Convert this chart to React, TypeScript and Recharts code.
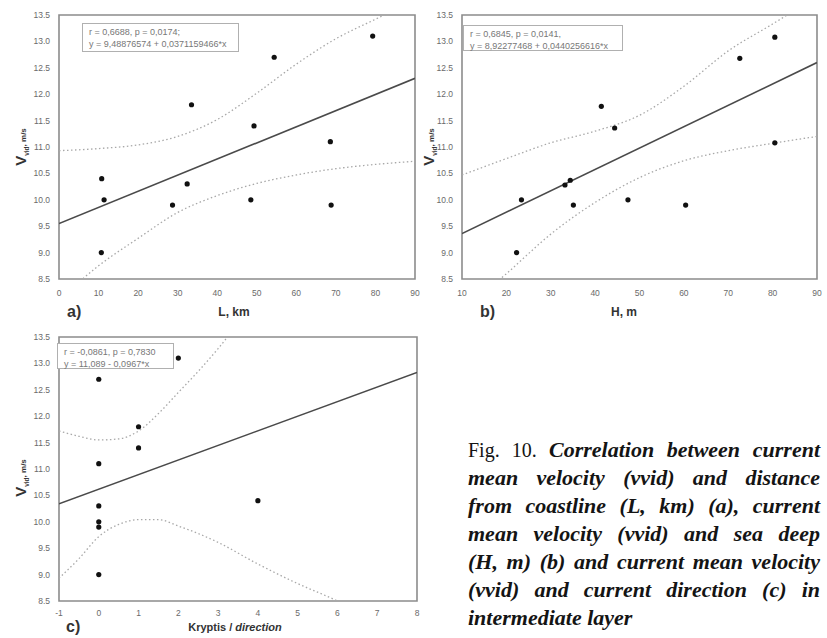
import React from 'react';
import { ComposedChart, Scatter, Line, XAxis, YAxis, ReferenceArea } from 'recharts';

// panel a: distance from coastline
const distKm = [10.8, 11.4, 10.7, 28.7, 32.4, 33.5, 48.5, 49.3, 54.4, 68.6, 68.8, 79.3];
const velA = [10.4, 10.0, 9.0, 9.9, 10.3, 11.8, 10.0, 11.4, 12.7, 11.1, 9.9, 13.1];
const fitAX = [0, 90];
const fitAY = [9.55, 12.3];
const bandAX = [0, 10, 20, 30, 40, 50, 60, 70, 80, 90];
const bandAUpper = [10.93, 10.97, 11.04, 11.2, 11.52, 12.02, 12.57, 13.05, 13.42, 13.78];
const bandALower = [8.1, 8.75, 9.27, 9.76, 10.08, 10.31, 10.47, 10.59, 10.67, 10.73];
const ticksA = [0, 10, 20, 30, 40, 50, 60, 70, 80, 90];

// panel b: sea depth
const depthM = [22.3, 23.4, 33.2, 34.4, 35.1, 41.4, 44.4, 47.4, 60.4, 72.6, 80.5, 80.5];
const velB = [9.0, 10.0, 10.28, 10.37, 9.9, 11.77, 11.36, 10.0, 9.9, 12.68, 13.08, 11.08];
const fitBX = [10, 90];
const fitBY = [9.36, 12.6];
const bandBX = [10, 20, 30, 40, 50, 60, 70, 80, 90];
const bandBUpper = [10.47, 10.78, 11.08, 11.3, 11.6, 12.15, 12.82, 13.33, 13.85];
const bandBLower = [7.9, 8.6, 9.35, 9.95, 10.42, 10.74, 10.93, 11.07, 11.2];
const ticksB = [10, 20, 30, 40, 50, 60, 70, 80, 90];

// panel c: current direction
const direction = [0, 0, 0, 0, 0, 0, 1, 1, 2, 4];
const velC = [12.7, 11.1, 10.3, 10.0, 9.9, 9.0, 11.8, 11.4, 13.1, 10.4];
const fitCX = [-1, 8];
const fitCY = [10.34, 12.83];
const bandCUpperX = [-1, -0.5, 0, 0.5, 1, 1.5, 2, 2.5, 3, 3.5, 4];
const bandCUpper = [11.72, 11.62, 11.55, 11.57, 11.72, 12.05, 12.45, 12.85, 13.28, 13.75, 14.2];
const bandCLowerX = [-1, -0.5, 0, 0.5, 1, 1.5, 2, 3, 4, 5, 6, 7, 8];
const bandCLower = [8.93, 9.3, 9.72, 9.95, 10.04, 10.04, 9.92, 9.61, 9.2, 8.83, 8.5, 8.1, 7.7];
const ticksC = [-1, 0, 1, 2, 3, 4, 5, 6, 7, 8];

const velTicks = [8.5, 9.0, 9.5, 10.0, 10.5, 11.0, 11.5, 12.0, 12.5, 13.0, 13.5];

const zip = (xs: number[], ys: number[]) => xs.map((x, i) => ({ x, y: ys[i] }));

const tickStyle = { fontSize: 8.5, fill: '#6a6a6a', fontFamily: 'Liberation Sans, Arial' };
const sans = '"Liberation Sans", Arial, sans-serif';

const Dot = (props: any) => <circle cx={props.cx} cy={props.cy} r={2.6} fill="#111" />;

interface PanelProps {
  left: number;
  top: number;
  width: number;
  yAxisWidth: number;
  marginTop: number;
  xTickMargin: number;
  domain: [number, number];
  xTicks: number[];
  points: { x: number; y: number }[];
  fit: { x: number; y: number }[];
  upper: { x: number; y: number }[];
  lower: { x: number; y: number }[];
}

function Panel(p: PanelProps) {
  return (
    <div style={{ position: 'absolute', left: p.left, top: p.top }}>
      <ComposedChart width={p.width} height={p.marginTop + 285} margin={{ top: p.marginTop, right: 5, bottom: 0, left: 0 }}>
        <XAxis
          type="number"
          dataKey="x"
          domain={p.domain}
          ticks={p.xTicks}
          allowDataOverflow
          axisLine={false}
          tickLine={false}
          tickSize={0}
          tickMargin={p.xTickMargin}
          height={21}
          tick={tickStyle}
          interval={0}
        />
        <YAxis
          type="number"
          dataKey="y"
          domain={[8.5, 13.5]}
          ticks={velTicks}
          allowDataOverflow
          axisLine={false}
          tickLine={false}
          tickSize={0}
          tickMargin={9}
          width={p.yAxisWidth}
          tick={tickStyle}
          interval={0}
          tickFormatter={(v: number) => v.toFixed(1)}
        />
        <ReferenceArea x1={p.domain[0]} x2={p.domain[1]} y1={8.5} y2={13.5} fill="none" stroke="#8c8c8c" strokeWidth={1.6} />
        <Line data={p.upper} dataKey="y" type="monotone" stroke="#a8a8a8" strokeWidth={1.3} strokeDasharray="1.5 2.5" dot={false} activeDot={false} isAnimationActive={false} />
        <Line data={p.lower} dataKey="y" type="monotone" stroke="#a8a8a8" strokeWidth={1.3} strokeDasharray="1.5 2.5" dot={false} activeDot={false} isAnimationActive={false} />
        <Line data={p.fit} dataKey="y" type="linear" stroke="#4a4a4a" strokeWidth={1.6} dot={false} activeDot={false} isAnimationActive={false} />
        <Scatter data={p.points} shape={Dot} isAnimationActive={false} />
      </ComposedChart>
    </div>
  );
}

function YLabel({ cx, cy }: { cx: number; cy: number }) {
  return (
    <div
      style={{
        position: 'absolute',
        left: cx,
        top: cy,
        transform: 'translate(-50%, -50%) rotate(-90deg)',
        whiteSpace: 'nowrap',
        fontFamily: sans,
        fontWeight: 'bold',
        color: '#333',
        lineHeight: 1,
      }}
    >
      <span style={{ fontSize: 15 }}>V</span>
      <span style={{ fontSize: 6.5, position: 'relative', top: 3 }}>vid</span>
      <span style={{ fontSize: 8 }}>, m/s</span>
    </div>
  );
}

function TextAt({ x, y, size, children, anchor = 'left' }: any) {
  return (
    <div
      style={{
        position: 'absolute',
        left: x,
        top: y,
        transform: anchor === 'center' ? 'translate(-50%, -50%)' : 'translate(0, -50%)',
        whiteSpace: 'nowrap',
        fontFamily: sans,
        fontWeight: 'bold',
        fontSize: size,
        color: '#333',
        lineHeight: 1,
      }}
    >
      {children}
    </div>
  );
}

function StatBox({ x, y, w, h, lines }: { x: number; y: number; w: number; h: number; lines: string[] }) {
  return (
    <div
      style={{
        position: 'absolute',
        left: x,
        top: y,
        width: w,
        height: h,
        boxSizing: 'border-box',
        border: '1px solid #b0b0b0',
        background: '#fff',
        padding: '2px 6px',
        fontFamily: sans,
        fontSize: 9,
        lineHeight: '12px',
        color: '#777',
        whiteSpace: 'nowrap',
      }}
    >
      {lines.map((l) => (
        <div key={l}>{l}</div>
      ))}
    </div>
  );
}

const captionLines = [
  'mean velocity (vvid) and distance',
  'from coastline (L, km) (a), current',
  'mean velocity (vvid) and sea deep',
  '(H, m) (b) and current mean velocity',
  '(vvid) and current direction (c) in',
];

export default function App() {
  const lineStyle: React.CSSProperties = {
    textAlign: 'justify',
    textAlignLast: 'justify',
    height: 28,
    lineHeight: '28px',
    whiteSpace: 'nowrap',
  };
  return (
    <div style={{ position: 'absolute', left: 0, top: 0, width: 827, height: 638, background: '#fff', overflow: 'hidden' }}>
      <Panel
        left={0}
        top={0}
        width={420}
        yAxisWidth={59}
        marginTop={15}
        xTickMargin={11}
        domain={[0, 90]}
        xTicks={ticksA}
        points={zip(distKm, velA)}
        fit={zip(fitAX, fitAY)}
        upper={zip(bandAX, bandAUpper)}
        lower={zip(bandAX, bandALower)}
      />
      <Panel
        left={400}
        top={0}
        width={422}
        yAxisWidth={62}
        marginTop={15}
        xTickMargin={11}
        domain={[10, 90]}
        xTicks={ticksB}
        points={zip(depthM, velB)}
        fit={zip(fitBX, fitBY)}
        upper={zip(bandBX, bandBUpper)}
        lower={zip(bandBX, bandBLower)}
      />
      <Panel
        left={0}
        top={320}
        width={422}
        yAxisWidth={59}
        marginTop={17}
        xTickMargin={9}
        domain={[-1, 8]}
        xTicks={ticksC}
        points={zip(direction, velC)}
        fit={zip(fitCX, fitCY)}
        upper={zip(bandCUpperX, bandCUpper)}
        lower={zip(bandCLowerX, bandCLower)}
      />

      <StatBox x={82} y={23} w={157} h={29} lines={['r = 0,6688, p = 0,0174;', 'y = 9,48876574 + 0,0371159466*x']} />
      <StatBox x={463} y={25} w={160} h={26} lines={['r = 0,6845, p = 0,0141,', 'y = 8,92277468 + 0,0440256616*x']} />
      <StatBox x={57} y={343} w={117} h={26} lines={['r = -0,0861, p = 0,7830', 'y = 11,089 - 0,0967*x']} />

      <YLabel cx={21} cy={147} />
      <YLabel cx={429} cy={147} />
      <YLabel cx={21} cy={478} />

      <TextAt x={67} y={312} size={16}>a)</TextAt>
      <TextAt x={234} y={312} size={12} anchor="center">L, km</TextAt>
      <TextAt x={480} y={312} size={16}>b)</TextAt>
      <TextAt x={624} y={312} size={12} anchor="center">H, m</TextAt>
      <TextAt x={66} y={627} size={16}>c)</TextAt>
      <TextAt x={235} y={627} size={11} anchor="center">
        Kryptis / <i>direction</i>
      </TextAt>

      <div
        style={{
          position: 'absolute',
          left: 468,
          top: 436,
          width: 352,
          fontFamily: '"Liberation Serif", "Times New Roman", serif',
          fontSize: 22,
          color: '#141414',
        }}
      >
        <div style={lineStyle}>
          <span style={{ fontSize: 20 }}>Fig. 10. </span>
          <b>
            <i>Correlation between current</i>
          </b>
        </div>
        {captionLines.map((l) => (
          <div key={l} style={lineStyle}>
            <b>
              <i>{l}</i>
            </b>
          </div>
        ))}
        <div style={{ ...lineStyle, textAlignLast: 'left' }}>
          <b>
            <i>intermediate layer</i>
          </b>
        </div>
      </div>
    </div>
  );
}
